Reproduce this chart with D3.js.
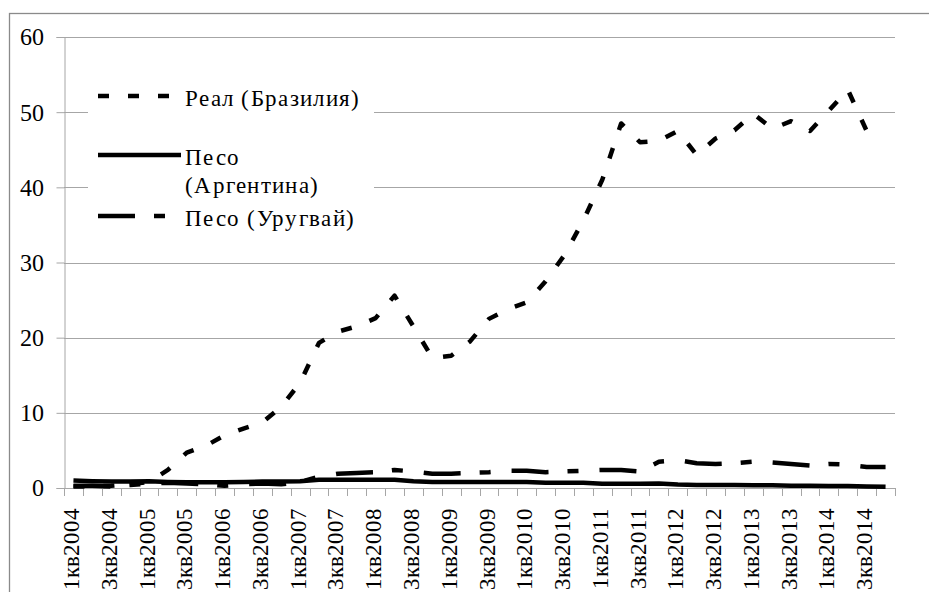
<!DOCTYPE html>
<html>
<head>
<meta charset="utf-8">
<script src="https://cdn.jsdelivr.net/npm/d3@7"></script>
<style>
  @font-face { font-family: "ChartSerif"; src: local("Liberation Serif"), local("LiberationSerif"), local("Times New Roman"); }
  body { margin: 0; background: #fff; }
  svg { display: block; }
  #chart, #chart text { font-family: "ChartSerif", "Liberation Serif", "Times New Roman", serif; }
</style>
</head>
<body>
<svg id="chart" width="929" height="592" style="font-family: 'Liberation Serif', 'Times New Roman', serif"></svg>
<script>
// quarters 1кв2004 .. 4кв2014
const quarters = [
  "1кв2004","2кв2004","3кв2004","4кв2004",
  "1кв2005","2кв2005","3кв2005","4кв2005",
  "1кв2006","2кв2006","3кв2006","4кв2006",
  "1кв2007","2кв2007","3кв2007","4кв2007",
  "1кв2008","2кв2008","3кв2008","4кв2008",
  "1кв2009","2кв2009","3кв2009","4кв2009",
  "1кв2010","2кв2010","3кв2010","4кв2010",
  "1кв2011","2кв2011","3кв2011","4кв2011",
  "1кв2012","2кв2012","3кв2012","4кв2012",
  "1кв2013","2кв2013","3кв2013","4кв2013",
  "1кв2014","2кв2014","3кв2014","4кв2014"
];

const realBrazil = [
  0.2, 0.2, 0.3, 0.5, 0.8, 2.4, 4.7, 5.6, 7.0, 7.9, 8.7, 10.8,
  14.0, 19.3, 20.8, 21.5, 22.6, 25.6, 21.5, 17.3, 17.6, 19.5, 22.5, 23.8,
  24.7, 27.5, 31.0, 35.6, 41.0, 48.5, 46.0, 46.2, 47.5, 44.3, 46.5, 47.6,
  49.8, 47.8, 48.8, 47.5, 50.2, 53.0, 47.5, null
];

const pesoArgentina = [
  1.0, 0.9, 0.85, 0.85, 0.9, 0.8, 0.75, 0.75, 0.75, 0.8, 0.85, 0.85,
  0.9, 1.1, 1.1, 1.1, 1.1, 1.1, 0.9, 0.8, 0.8, 0.8, 0.8, 0.8,
  0.8, 0.7, 0.7, 0.7, 0.55, 0.55, 0.55, 0.6, 0.45, 0.4, 0.4, 0.4,
  0.35, 0.35, 0.3, 0.3, 0.25, 0.25, 0.2, 0.15
];

const pesoUruguay = [
  0.3, 0.3, 0.2, 0.4, 0.6, 0.7, 0.6, 0.5, 0.3, 0.5, 0.6, 0.5,
  0.8, 1.5, 1.9, 2.0, 2.1, 2.4, 2.2, 1.9, 1.9, 2.0, 2.1, 2.3,
  2.3, 2.1, 2.2, 2.3, 2.4, 2.4, 2.2, 3.5, 3.7, 3.3, 3.2, 3.3,
  3.5, 3.4, 3.2, 3.0, 3.2, 3.1, 2.8, 2.8
];

const yTicks = [0, 10, 20, 30, 40, 50, 60];

const series = [
  { name: "Реал (Бразилия)", values: realBrazil, dash: "11,19" },
  { name: "Песо (Аргентина)", values: pesoArgentina, dash: null },
  { name: "Песо (Уругвай)", values: pesoUruguay, dash: "37,19,11,21" }
];

let plot = { left: 64, right: 895, top: 37, bottom: 488 };

let svg = d3.select('#chart');

// outer chart frame (cut off on the right and bottom like the picture)
svg.append('rect')
  .attr('x', 9.5).attr('y', 13.5)
  .attr('width', 960).attr('height', 620)
  .attr('fill', 'none')
  .attr('stroke', '#8a8a8a')
  .attr('stroke-width', 1.3);

let xScale = d3.scaleBand()
  .domain(quarters)
  .range([plot.left, plot.right]);

let yScale = d3.scaleLinear()
  .domain([0, 60])
  .range([plot.bottom, plot.top]);

// gridlines
svg.append('g')
  .selectAll('line')
  .data(yTicks.filter(d => d > 0))
  .enter().append('line')
  .attr('x1', plot.left).attr('x2', plot.right)
  .attr('y1', d => Math.round(yScale(d)) + 0.5)
  .attr('y2', d => Math.round(yScale(d)) + 0.5)
  .attr('stroke', '#a6a6a6')
  .attr('stroke-width', 1);

// y axis (tick lines from d3, labels drawn separately)
let yAxis = svg.append('g')
  .attr('transform', 'translate(' + (plot.left + 0.5) + ',0)')
  .call(d3.axisLeft(yScale).tickValues(yTicks).tickSize(8).tickFormat(''));
yAxis.attr('font-family', null).attr('font-size', null);
yAxis.selectAll('text').remove();
yAxis.selectAll('path, line').attr('stroke', '#a6a6a6');

svg.append('g')
  .selectAll('text')
  .data(yTicks)
  .enter().append('text')
  .attr('x', 44)
  .attr('y', d => yScale(d))
  .attr('dy', '0.35em')
  .attr('text-anchor', 'end')
  .attr('font-size', 24)
  .text(d => d);

// x axis: ticks on category boundaries
let xAxisG = svg.append('g');
xAxisG.append('line')
  .attr('x1', plot.left).attr('x2', plot.right)
  .attr('y1', plot.bottom + 0.5).attr('y2', plot.bottom + 0.5)
  .attr('stroke', '#a6a6a6');
xAxisG.selectAll('.tick')
  .data(d3.range(quarters.length + 1))
  .enter().append('line')
  .attr('class', 'tick')
  .attr('x1', i => Math.round(plot.left + i * xScale.step()) + 0.5)
  .attr('x2', i => Math.round(plot.left + i * xScale.step()) + 0.5)
  .attr('y1', plot.bottom)
  .attr('y2', plot.bottom + 8)
  .attr('stroke', '#a6a6a6');

xAxisG.selectAll('.qlabel')
  .data(quarters.filter((q, i) => i % 2 === 0))
  .enter().append('text')
  .attr('class', 'qlabel')
  .attr('transform', d => 'translate(' + (xScale(d) + xScale.bandwidth() / 2 - 2) + ',' + 508 + ') rotate(-90)')
  .attr('text-anchor', 'end')
  .attr('dy', '0.33em')
  .attr('font-size', 23)
  .text(d => d);

// lines
let line = d3.line()
  .defined(d => d.v !== null)
  .x(d => xScale(d.q) + xScale.bandwidth() / 2)
  .y(d => yScale(d.v));

series.slice().reverse().forEach(function(s) {
  svg.append('path')
    .datum(s.values.map((v, i) => ({ q: quarters[i], v: v })))
    .attr('d', line)
    .attr('fill', 'none')
    .attr('stroke', '#000')
    .attr('stroke-width', 4.5)
    .attr('stroke-linejoin', 'round')
    .attr('stroke-dasharray', s.dash);
});

// legend
let legend = svg.append('g');
legend.append('rect')
  .attr('x', 88).attr('y', 75)
  .attr('width', 286).attr('height', 165)
  .attr('fill', '#fff');

let legendRows = [
  { s: series[0], y: 96, lines: ["Реал (Бразилия)"], ty: 106 },
  { s: series[1], y: 155, lines: ["Песо", "(Аргентина)"], ty: 165 },
  { s: series[2], y: 216, lines: ["Песо (Уругвай)"], ty: 226 }
];

legendRows.forEach(function(r) {
  legend.append('line')
    .attr('x1', 98).attr('x2', r.s.dash ? 172 : 181)
    .attr('y1', r.y).attr('y2', r.y)
    .attr('stroke', '#000')
    .attr('stroke-width', 4.5)
    .attr('stroke-dasharray', r.s.dash);
  r.lines.forEach(function(t, k) {
    legend.append('text')
      .attr('x', 185)
      .attr('y', r.ty + k * 28)
      .attr('font-size', 23)
      .attr('letter-spacing', 1.3)
      .text(t);
  });
});
</script>
</body>
</html>
